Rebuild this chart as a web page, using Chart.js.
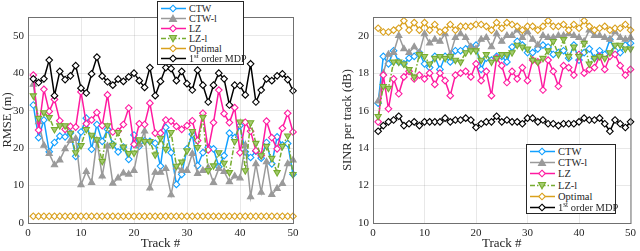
<!DOCTYPE html>
<html>
<head>
<meta charset="utf-8">
<script src="https://cdn.jsdelivr.net/npm/chart.js@4.4.0/dist/chart.umd.min.js"></script>
<style>
  body { margin: 0; background: #fff; }
  #wrap { position: relative; width: 640px; height: 251px; overflow: hidden; font-family: 'Liberation Serif', serif; }
  .box { position: absolute; top: 0; width: 320px; height: 251px; }
  .legend { position: absolute; background: #fff; border: 1px solid #262626; box-sizing: border-box; padding: 1px 3px; }
  .legend .row { display: flex; align-items: center; white-space: nowrap; color: #262626; }
  .legend svg { margin-right: 3px; flex: none; }
  .legend sup { font-size: 70%; line-height: 0; }
</style>
</head>
<body>
<div id="wrap">
  <div class="box" style="left:0"><canvas id="rmse"></canvas></div>
  <div class="box" style="left:320px"><canvas id="sinr"></canvas></div>
  <div class="legend" id="leg1" style="left:157px; top:1px; width:87px; height:64px; font-size:10px;"></div>
  <div class="legend" id="leg2" style="left:526px; top:144px; width:90px; height:70px; font-size:10.5px;"></div>
</div>
<script>
// track numbers (x axis)
const tracks = [1,2,3,4,5,6,7,8,9,10,11,12,13,14,15,16,17,18,19,20,21,22,23,24,25,
                26,27,28,29,30,31,32,33,34,35,36,37,38,39,40,41,42,43,44,45,46,47,48,49,50];

const seriesNames = ['CTW', 'CTW-l', 'LZ', 'LZ-l', 'Optimal', '1st order MDP'];

// left plot: RMSE (m)
const rmseCtw = [31.5,22.8,27.5,19,21.5,23.2,23,24,17.8,24.3,28,19.7,26.3,21.8,25,21,19,20.3,17,23.5,
                 20.5,22,21.8,21.3,15.2,25.5,18.8,10.3,13,19.8,23.7,15.3,18.8,20.2,19.8,15,18,24,22.8,26,
                 19,17.5,19.2,17.3,21.5,15.8,23,20.8,21.2,13];
const rmseCtwL = [37,27,20.7,18.5,15.5,16.8,19.8,22,22.5,10.2,13.7,10.8,22,12.5,20.5,10.6,12,13.3,13,14,
                  21,24.5,9.3,13.5,13.5,14.5,7.5,15,14,14,18.5,13.2,14,14.8,10.8,14.5,13.7,11,12.5,12,
                  20.8,7,15.8,8.2,16.3,7.6,9.2,10.5,15.8,16.8];
const rmseLz = [39.5,24.8,35.7,29.8,33,27.3,25,25.8,25.6,35,26.5,27.5,29.5,26,34.2,24.3,24.5,26.3,30.7,21,
                26.5,26.3,32,24,24,27.5,27.2,25.8,25,26,27.3,22,29.3,19.5,26.8,35.5,29.2,26.8,30.8,18.8,
                26.9,24.5,19.3,18,27.2,22.8,19.8,25.3,29.3,24.3];
const rmseLzL = [34,28,29.5,28.2,25,26,26,24,18.8,20.7,25,23.5,22.3,16.5,26,20.8,24.2,20.3,18.6,18.7,
                 22.3,21.8,21.8,18.2,22.7,19.7,24.2,15.2,16.3,19.3,24.5,20.2,28.2,14,15.3,18.8,16,13.5,21.8,27,
                 14,26.8,21.3,18,20.5,17.3,13.5,20.5,23.3,13];
const rmseOpt = [1.8,1.8,1.8,1.8,1.8,1.8,1.8,1.8,1.8,1.8,1.8,1.8,1.8,1.8,1.8,1.8,1.8,1.8,1.8,1.8,
                 1.8,1.8,1.8,1.8,1.8,1.8,1.8,1.8,1.8,1.8,1.8,1.8,1.8,1.8,1.8,1.8,1.8,1.8,1.8,1.8,
                 1.8,1.8,1.8,1.8,1.8,1.8,1.8,1.8,1.8,1.8];
const rmseMdp = [38.5,37.5,38.5,43.5,34,40.5,38.3,39.3,42,36,34.7,39.8,44.3,39.2,37.7,36.8,38.4,37.8,39,40,
                 38,36.2,41.5,34,37.8,41.5,41.2,38,40.5,37.2,35.5,40.8,36.8,32.3,36.8,40,38.5,31.5,36.8,36.7,
                 34.2,42.5,32.3,35.5,38.5,38,39.3,39.8,38.3,35.3];

// right plot: SINR per track (dB)
const sinrCtw = [16.4,18.9,18.5,19.2,18.6,18.5,18.8,18.9,19.1,18.5,18.3,18.9,18.2,18.9,18.6,19.2,19.2,19.3,19.4,19.5,
                 18.2,18.8,18.7,18.9,18.9,18.6,19.4,19.7,19.5,19.1,19.1,19.3,19.5,19.4,19,19.1,19.2,18.8,19.5,18.7,
                 19.1,19.3,18.8,19.2,19,19.8,19.2,19.1,19.5,19.6];
const sinrCtwL = [16.5,18,19,19.1,20,19.3,19.1,19.4,19.1,20.1,19.6,19.8,19.7,20.1,19,19.9,20.1,19.9,19.4,19.3,
                  19.8,19.9,19.4,20.1,19.7,20,20,20.3,19.9,20.2,19.8,19.5,20,19.9,19.9,20,20,20.1,20,19.9,
                  19.7,20.3,20,20,19.9,19.8,20.2,19.9,19.8,19.9];
const sinrLz = [15.4,17.9,16.1,17.7,16.9,17.8,18.1,17.7,17.9,17.7,18,17.4,18,17.6,16.8,17.9,18,18.1,17.8,18.5,
                17.6,18.1,16.8,18.8,18.4,17.5,18.1,17.7,18.3,17.6,18.7,18.6,17.1,18.7,18.1,17.3,18.4,18.3,17.9,19,
                18,18.2,18.3,18.9,18.2,18.9,19,18.4,17.9,18.2];
const sinrLzL = [15.7,17.3,17.2,18.6,18.6,18.5,18.2,17.8,19,18.9,18.5,18.8,18.9,18.8,18.9,18.7,18.6,19.1,19.2,19.2,
                 18.7,19,18.6,18.8,19,19,19.1,19.5,19.4,19.3,18.7,18.6,18.8,19.2,19.7,19,19.8,18.9,19.4,18.9,
                 19.6,18.5,18.8,18.9,18.8,19.1,19.5,19.5,19.3,19.3];
const sinrOpt = [20.4,20.2,20.2,20.3,20.4,20.8,20.3,20.7,20.3,20.7,20.3,20.6,20.2,20.3,20.6,20.3,20.5,20.5,20.5,20.6,
                 20.6,20.5,20.3,20.7,20.4,20.7,20.6,20.5,20.3,20.5,20.5,20.3,20.5,20.8,20.5,20.5,20.6,20.3,20.6,20.4,
                 20.8,20.5,20.3,20.4,20.5,20.3,20.4,20.4,20.6,20.3];
const sinrMdp = [14.9,15.2,15.4,15.5,15.7,15.2,15.3,15.4,15.2,15.4,15.4,15.4,15.4,15.6,15.4,15.5,15.5,15.6,15.5,15.1,
                 15.3,15.4,15.4,15.7,15.4,15.5,15.4,15.4,15.3,15.6,15.6,15.4,15.5,15.3,15.3,15.2,15.3,15.3,15.3,15.4,
                 15.6,15.5,15.5,15.6,15.3,14.9,15.5,15.3,15.1,15.4];

// tick labels
const xTicks = [0, 10, 20, 30, 40, 50];
const rmseTicks = [0, 10, 20, 30, 40, 50];
const sinrTicks = [10, 12, 14, 16, 18, 20];

// styles per series: colour, marker, dash
const styles = [
  { color: '#12a0ff', marker: 'rectRot', fill: '#ffffff', dash: [] },
  { color: '#9a9a9a', marker: 'triangle', fill: '#9a9a9a', dash: [] },
  { color: '#ff1aa0', marker: 'rectRot', fill: '#ffffff', dash: [] },
  { color: '#77ac30', marker: 'triangle', fill: '#a4cc70', dash: [5, 2, 1.5, 2], rot: 180 },
  { color: '#d9a01c', marker: 'rectRot', fill: '#ffffff', dash: [] },
  { color: '#000000', marker: 'rectRot', fill: '#ffffff', dash: [] }
];

Chart.defaults.font.family = "'Liberation Serif', serif";
Chart.defaults.color = '#262626';

function makeDatasets(list) {
  return list.map(function (vals, i) {
    const s = styles[i];
    return {
      label: seriesNames[i],
      data: tracks.map(function (t, k) { return { x: t, y: vals[k] }; }),
      borderColor: s.color,
      backgroundColor: s.color,
      borderWidth: 1.5,
      borderDash: s.dash,
      pointStyle: s.marker,
      pointRotation: s.rot || 0,
      pointRadius: s.marker === 'triangle' ? 3.6 : 3.3,
      pointBorderWidth: 1.1,
      pointBorderColor: s.color,
      pointBackgroundColor: s.fill,
      order: 6 - i,
      clip: false
    };
  });
}

// draws the box around the axes like matlab
const boxPlugin = {
  id: 'axbox',
  afterDraw: function (chart) {
    const a = chart.chartArea;
    const ctx = chart.ctx;
    ctx.save();
    ctx.strokeStyle = '#707070';
    ctx.lineWidth = 1;
    ctx.strokeRect(a.left + 0.5, a.top + 0.5, a.right - a.left, a.bottom - a.top);
    ctx.restore();
  }
};

function makeOptions(yMin, yMax, yTicks, yTitle, pad, yWidth) {
  return {
    responsive: true,
    maintainAspectRatio: false,
    animation: false,
    layout: { padding: pad },
    plugins: { legend: { display: false }, tooltip: { enabled: false } },
    scales: {
      x: {
        type: 'linear', min: 0, max: 50,
        afterBuildTicks: function (s) { s.ticks = xTicks.map(function (v) { return { value: v }; }); },
        afterFit: function (s) { s.height = 28; },
        grid: { color: 'rgba(0,0,0,0.09)', drawTicks: false },
        border: { display: false },
        ticks: { font: { size: 11 }, padding: 4, maxRotation: 0 },
        title: { display: true, text: 'Track #', font: { size: 13 }, padding: { top: 0, bottom: 0 } }
      },
      y: {
        type: 'linear', min: yMin, max: yMax,
        afterBuildTicks: function (s) { s.ticks = yTicks.map(function (v) { return { value: v }; }); },
        afterFit: function (s) { s.width = yWidth; },
        grid: { color: 'rgba(0,0,0,0.09)', drawTicks: false },
        border: { display: false },
        ticks: { font: { size: 11 }, padding: 4 },
        title: { display: true, text: yTitle, font: { size: 12.5 }, padding: { top: 0, bottom: 0 } }
      }
    }
  };
}

new Chart(document.getElementById('rmse'), {
  type: 'line',
  data: { datasets: makeDatasets([rmseCtw, rmseCtwL, rmseLz, rmseLzL, rmseOpt, rmseMdp]) },
  options: makeOptions(0, 55, rmseTicks, 'RMSE (m)', { top: 17, right: 27, left: 0, bottom: 0 }, 28),
  plugins: [boxPlugin]
});

new Chart(document.getElementById('sinr'), {
  type: 'line',
  data: { datasets: makeDatasets([sinrCtw, sinrCtwL, sinrLz, sinrLzL, sinrOpt, sinrMdp]) },
  options: makeOptions(10, 21, sinrTicks, 'SINR per track (dB)', { top: 17, right: 5, left: 20, bottom: 0 }, 33),
  plugins: [boxPlugin]
});

// legend sample: small svg with line and marker
function sampleSvg(s) {
  var m;
  if (s.marker === 'rectRot') {
    m = '<polygon points="12,1.2 15.3,4.5 12,7.8 8.7,4.5" fill="' + s.fill + '" stroke="' + s.color + '" stroke-width="1.1"/>';
  } else if (s.rot) {
    m = '<polygon points="8.5,1.5 15.5,1.5 12,7.8" fill="' + s.fill + '" stroke="' + s.color + '" stroke-width="1.1"/>';
  } else {
    m = '<polygon points="12,1.2 15.5,7.5 8.5,7.5" fill="' + s.fill + '" stroke="' + s.color + '" stroke-width="1.1"/>';
  }
  var dash = s.dash.length ? ' stroke-dasharray="' + s.dash.join(',') + '"' : '';
  return '<svg width="25" height="9"><line x1="0" y1="4.5" x2="25" y2="4.5" stroke="' + s.color +
         '" stroke-width="1.5"' + dash + '/>' + m + '</svg>';
}

function fillLegend(id, rowH) {
  var el = document.getElementById(id);
  var html = '';
  for (var i = 0; i < seriesNames.length; i++) {
    var name = seriesNames[i];
    if (i === 5) name = '1<sup>st</sup> order MDP';
    html += '<div class="row" style="height:' + rowH + 'px">' + sampleSvg(styles[i]) + '<span>' + name + '</span></div>';
  }
  el.innerHTML = html;
}
fillLegend('leg1', 10);
fillLegend('leg2', 11.2);
</script>
</body>
</html>
